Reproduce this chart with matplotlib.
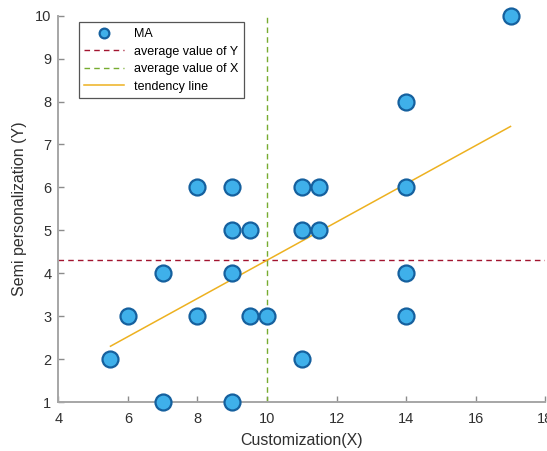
import matplotlib
matplotlib.use("Agg")
import matplotlib.pyplot as plt
from matplotlib.lines import Line2D

plt.rcParams['font.family'] = ['Liberation Sans', 'DejaVu Sans']

# Observations: customization score (X) vs semi personalization score (Y)
customization = [5.5, 6, 7, 7, 8, 8, 9, 9, 9, 9, 9.5, 9.5, 10,
                 11, 11, 11, 11.5, 11.5, 14, 14, 14, 14, 17]
semi_personalization = [2, 3, 4, 1, 6, 3, 6, 5, 4, 1, 5, 3, 3,
                        6, 5, 2, 6, 5, 8, 6, 4, 3, 10]

# Reference lines
average_x = 10.0
average_y = 4.32
trend_x = [5.5, 17.0]
trend_y = [2.30, 7.42]

x_ticks = [4, 6, 8, 10, 12, 14, 16, 18]
y_ticks = [1, 2, 3, 4, 5, 6, 7, 8, 9, 10]

fig = plt.figure(figsize=(5.47, 4.51), dpi=100)
ax = fig.add_axes([0.1066, 0.1086, 0.8903, 0.8566])

ax.axhline(average_y, color='#a2142f', lw=1.0, ls=(0, (4, 3)), zorder=2)
ax.axvline(average_x, color='#77ac30', lw=1.0, ls=(0, (4, 3)), zorder=2)
ax.plot(trend_x, trend_y, color='#edb120', lw=1.1, zorder=3)
ax.plot(customization, semi_personalization, ls='none', marker='o',
        markersize=11.5, markerfacecolor='#3fb0ea', markeredgecolor='#15609e',
        markeredgewidth=1.6, zorder=4, clip_on=False)

ax.set_xlim(4, 18)
ax.set_ylim(1, 10)
ax.set_xticks(x_ticks)
ax.set_yticks(y_ticks)

for side in ('top', 'right'):
    ax.spines[side].set_visible(False)
for side in ('left', 'bottom'):
    ax.spines[side].set_color('#a6a6a6')
    ax.spines[side].set_linewidth(1.4)
ax.tick_params(direction='in', length=4, width=1.0, color='#8c8c8c',
               labelsize=10.5, labelcolor='#303030')
ax.tick_params(axis='x', pad=7)
ax.tick_params(axis='y', pad=5)

ax.set_xlabel('Customization(X)', fontsize=11.5, color='#303030', labelpad=5)
ax.set_ylabel('Semi personalization (Y)', fontsize=11.5, color='#303030', labelpad=6)

handles = [
    Line2D([], [], ls='none', marker='o', markersize=7, markerfacecolor='#3fb0ea',
           markeredgecolor='#15609e', markeredgewidth=1.6),
    Line2D([], [], color='#a2142f', lw=1.0, ls=(0, (4, 3))),
    Line2D([], [], color='#77ac30', lw=1.0, ls=(0, (4, 3))),
    Line2D([], [], color='#edb120', lw=1.1),
]
labels = ['MA', 'average value of Y', 'average value of X', 'tendency line']
leg = ax.legend(handles, labels, loc='upper left', bbox_to_anchor=(0.042, 0.983),
                fontsize=9, frameon=True, fancybox=False, framealpha=1,
                edgecolor='#555555', borderpad=0.45, labelspacing=0.45,
                handlelength=3.2, handletextpad=0.8, borderaxespad=0)
leg.get_frame().set_linewidth(0.9)

fig.savefig('out.png', dpi=100)
